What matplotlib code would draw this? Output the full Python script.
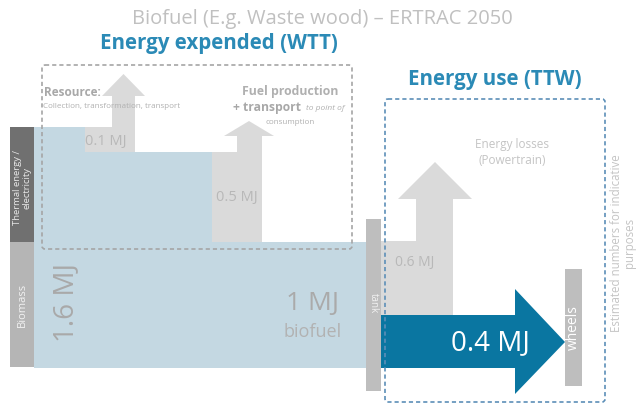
import matplotlib
matplotlib.use('Agg')
import matplotlib.pyplot as plt
from matplotlib.patches import Polygon, Rectangle, FancyBboxPatch

# Energy chain for biofuel from waste wood (MJ)
flow_names = ['input', 'resource', 'production', 'biofuel', 'powertrain', 'wheels']
flow_mj = [1.6, 0.1, 0.5, 1.0, 0.6, 0.4]
input_parts = ['Thermal energy /\nelectricity', 'Biomass']

title = 'Biofuel (E.g. Waste wood) \u2013 ERTRAC 2050'
wtt_title = 'Energy expended (WTT)'
ttw_title = 'Energy use (TTW)'

mj = {n: f'{v:g} MJ' for n, v in zip(flow_names, flow_mj)}

# colours
BLUE_BAND = '#c4d8e2'
LOSS = '#dadada'
DARK_BAR = '#707070'
LIGHT_BAR = '#b5b5b5'
POST = '#bebebe'
ARROW = '#0a76a1'
HEAD = '#2b8ab6'
TXT = '#b8b8b8'

fig = plt.figure(figsize=(6.36, 4.06), dpi=100)
ax = fig.add_axes([0, 0, 1, 1])
ax.set_xlim(0, 636)
ax.set_ylim(406, 0)
ax.axis('off')

# layout in pixel units (y grows downward)
top_in, step1, step2, bottom = 128, 153, 243, 369
x_bar0, x_bar1 = 10, 34
x_l1, x_r1 = 85, 135
x_l2, x_r2 = 212, 262
x_tank0, x_tank1 = 366, 381


def up_arrow_shape(x0, x1, y_bot, y_top, sx0, sx1, y_base, hx0, hx1, y_tip):
    # loss block with a shaft turning upward into an arrow head
    return [(x0, y_bot), (x1, y_bot), (x1, y_base), (hx1, y_base),
            ((hx0 + hx1) / 2, y_tip), (hx0, y_base), (sx0, y_base),
            (sx0, y_top), (x0, y_top)]


# main biofuel band
band = [(x_bar1, top_in), (x_l1, top_in), (x_l1, step1), (x_l2, step1),
        (x_l2, step2), (x_tank0, step2), (x_tank0, bottom), (x_bar1, bottom)]
ax.add_patch(Polygon(band, closed=True, fc=BLUE_BAND, ec='none', zorder=1))

# losses
ax.add_patch(Polygon(up_arrow_shape(x_l1, x_r1, step1, top_in, 112, 135, 97, 102, 145, 75),
                     fc=LOSS, ec='none', zorder=1))
ax.add_patch(Polygon(up_arrow_shape(x_l2, x_r2, step2, step1, 237, 262, 137, 224, 274, 122),
                     fc=LOSS, ec='none', zorder=1))
ax.add_patch(Polygon(up_arrow_shape(x_tank1, 453, 316, 242, 416, 453, 200, 398, 472, 163),
                     fc=LOSS, ec='none', zorder=1))

# useful energy arrow to the wheels
ax.add_patch(Polygon([(x_tank1, 316), (515, 316), (515, 290), (565, 343),
                      (515, 395), (515, bottom), (x_tank1, bottom)],
                     fc=ARROW, ec='none', zorder=3))

# input bars, tank and wheels
ax.add_patch(Rectangle((x_bar0, top_in), x_bar1 - x_bar0, step2 - top_in, fc=DARK_BAR, ec='none', zorder=2))
ax.add_patch(Rectangle((x_bar0, step2), x_bar1 - x_bar0, 368 - step2, fc=LIGHT_BAR, ec='none', zorder=2))
ax.add_patch(Rectangle((x_tank0, 220), x_tank1 - x_tank0, 172, fc=POST, ec='none', zorder=2))
ax.add_patch(Rectangle((565, 270), 17, 117, fc=POST, ec='none', zorder=4))

# dashed boundaries for WTT and TTW
ax.add_patch(FancyBboxPatch((42, 66), 310, 184, boxstyle='round,pad=0,rounding_size=3',
                            fc='none', ec='#a5a5a5', lw=1.2, ls=(0, (2.5, 1.8)), zorder=5))
ax.add_patch(FancyBboxPatch((385, 100), 220, 303, boxstyle='round,pad=0,rounding_size=3',
                            fc='none', ec='#5c8fb8', lw=1.2, ls=(0, (2.5, 1.8)), zorder=5))

font = 'Open Sans'
ax.text(322, 19, title, ha='center', va='center', fontsize=14.5, color='#c0c0c0', family=font)
ax.text(219, 44, wtt_title, ha='center', va='center', fontsize=14.8, color=HEAD,
        fontweight='bold', family=font)
ax.text(495, 80, ttw_title, ha='center', va='center', fontsize=14.8, color=HEAD,
        fontweight='bold', family=font)

# stage descriptions
ax.text(44, 93, 'Resource:', ha='left', va='center', fontsize=8.5, color='#a8a8a8',
        fontweight='bold', family=font, zorder=6)
ax.text(43, 107, 'Collection, transformation, transport', ha='left', va='center',
        fontsize=5.8, color='#b0b0b0', family=font, zorder=6)
ax.text(290, 92, 'Fuel production', ha='center', va='center', fontsize=8.8,
        color='#b0b0b0', fontweight='bold', family=font, zorder=6)
ax.text(233, 107, '+ transport', ha='left', va='center', fontsize=8.7, color='#a8a8a8',
        fontweight='bold', family=font, zorder=6)
ax.text(325, 109, 'to point of', ha='center', va='center', fontsize=6, color='#b0b0b0',
        style='italic', family=font, zorder=6)
ax.text(290, 122, 'consumption', ha='center', va='center', fontsize=5.8, color='#b0b0b0',
        family=font, zorder=6)
ax.text(512, 153, 'Energy losses\n(Powertrain)', ha='center', va='center', fontsize=8.5,
        color='#c4c4c4', family=font, linespacing=1.3, zorder=6)

# flow values
ax.text(106, 142, mj['resource'], ha='center', va='center', fontsize=10.5, color=TXT, family=font, zorder=6)
ax.text(237, 198, mj['production'], ha='center', va='center', fontsize=10.5, color=TXT, family=font, zorder=6)
ax.text(415, 263, mj['powertrain'], ha='center', va='center', fontsize=10, color=TXT, family=font, zorder=6)
ax.text(66, 303, mj['input'], ha='center', va='center', fontsize=20, color='#a9a9a9',
        rotation=90, family=font, zorder=6)
ax.text(313, 304, mj['biofuel'], ha='center', va='center', fontsize=19, color='#aaaaaa',
        family=font, zorder=6)
ax.text(313, 332, 'biofuel', ha='center', va='center', fontsize=13, color='#b2b2b2',
        family=font, zorder=6)
ax.text(490, 343, mj['wheels'], ha='center', va='center', fontsize=20, color='white',
        family=font, zorder=6)

# bar captions
ax.text(22, 188, input_parts[0], ha='center', va='center', fontsize=6.8, color='#e8e8e8',
        rotation=90, family=font, linespacing=1.05, zorder=6)
ax.text(22, 305, input_parts[1], ha='center', va='center', fontsize=8, color='#f2f2f2',
        rotation=90, family=font, zorder=6)
ax.text(373.5, 303, 'tank', ha='center', va='center', fontsize=7, color='#f2f2f2',
        rotation=270, family=font, zorder=6)
ax.text(573.5, 328, 'wheels', ha='center', va='center', fontsize=10, color='white',
        rotation=90, family=font, zorder=6)
ax.text(623, 243, 'Estimated numbers for indicative\npurposes', ha='center', va='center',
        fontsize=8.3, color='#c4c4c4', rotation=90, family=font, linespacing=1.0, zorder=6)

fig.savefig('out.png', dpi=100)
